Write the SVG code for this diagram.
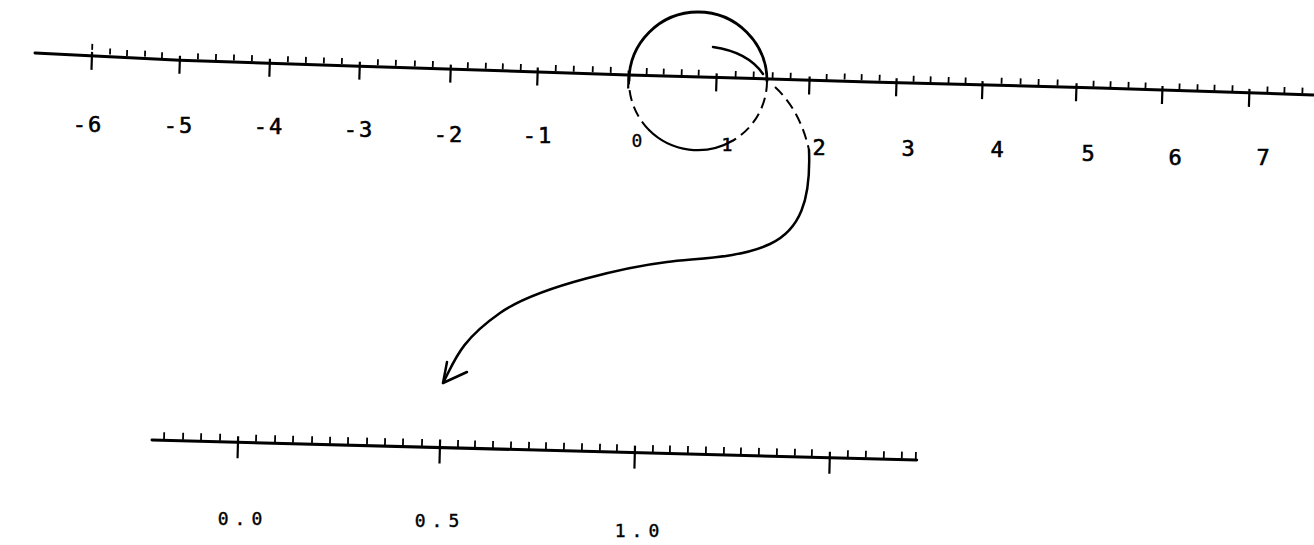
<svg xmlns="http://www.w3.org/2000/svg" width="1314" height="545" viewBox="0 0 1314 545">
<style>
.axis{fill:none;stroke:#000;stroke-width:3;stroke-linejoin:round;stroke-linecap:round}
.major{fill:none;stroke:#000;stroke-width:2.2}
.minor{fill:none;stroke:#000;stroke-width:1.8}
.lbl{font-family:"DejaVu Sans Mono","Liberation Mono",monospace;font-size:22px;fill:#000;stroke:#000;stroke-width:0.6;text-anchor:middle;letter-spacing:2px}
.lbls{font-family:"DejaVu Sans Mono","Liberation Mono",monospace;font-size:18px;fill:#000;stroke:#000;stroke-width:0.4;text-anchor:middle;letter-spacing:6px}
.ink{fill:none;stroke:#000;stroke-width:2.5;stroke-linecap:round;stroke-linejoin:round}
.dash{fill:none;stroke:#000;stroke-width:2;stroke-dasharray:11 6}
</style>
<rect width="1314" height="545" fill="#fff"/>

<g id="top-ruler">
  <g transform="translate(35,53) rotate(1.88)">
    <path class="axis" d="M0,0 L60,1 L145,2.5 L325,2.5 L594,2.5 L835,1.5 L1065,0 L1279,0"/>
    <path class="major" d="M57,-3 v18 M145,-2 v18 M235,-2 v18 M325,-2 v18 M416,-2 v18 M503,-2 v18 M594,-2 v18 M682,-2 v18 M775,-2 v18 M862,-3 v18 M948,-3 v18 M1042,-4 v18 M1128,-4 v18 M1215,-4 v18"/>
    <path class="minor" d="M57,-5 v-6 M75,-1 v-6 M92,0 v-6 M110,0 v-6 M127,1 v-6 M163,1 v-6 M181,1 v-6 M199,1 v-6 M217,1 v-6 M253,1 v-6 M271,1 v-6 M289,1 v-6 M307,1 v-6 M343,1 v-6 M361,1 v-6 M380,1 v-6 M398,1 v-6 M433,1 v-6 M451,1 v-6 M468,1 v-6 M486,1 v-6 M521,1 v-6 M539,1 v-6 M558,1 v-6 M576,1 v-6 M612,1 v-6 M629,1 v-6 M647,1 v-6 M664,1 v-6 M701,1 v-6 M719,1 v-6 M738,1 v-6 M756,1 v-6 M792,1 v-6 M810,0 v-6 M827,0 v-6 M845,0 v-6 M879,0 v-6 M896,0 v-6 M914,0 v-6 M931,0 v-6 M967,-1 v-6 M986,-1 v-6 M1004,-1 v-6 M1023,-1 v-6 M1059,-1 v-6 M1076,-1 v-6 M1094,-1 v-6 M1111,-1 v-6 M1145,-1 v-6 M1163,-1 v-6 M1180,-1 v-6 M1198,-1 v-6 M1233,-1 v-6 M1250,-1 v-6 M1268,-1 v-6"/>
  </g>
  <g id="top-labels">
    <text class="lbl" x="88" y="132">-6</text>
    <text class="lbl" x="179" y="133">-5</text>
    <text class="lbl" x="269" y="134">-4</text>
    <text class="lbl" x="359" y="137">-3</text>
    <text class="lbl" x="449" y="142">-2</text>
    <text class="lbl" x="538" y="143">-1</text>
    <text class="lbl" x="638" y="147" style="font-size:18px;stroke-width:0.3">0</text>
    <text class="lbl" x="728" y="151" style="font-size:18px">1</text>
    <text class="lbl" x="820" y="155">2</text>
    <text class="lbl" x="909" y="156">3</text>
    <text class="lbl" x="998" y="157">4</text>
    <text class="lbl" x="1089" y="161">5</text>
    <text class="lbl" x="1176" y="165">6</text>
    <text class="lbl" x="1264" y="165">7</text>
  </g>
</g>

<g id="magnifier">
  <path class="ink" d="M629,81 A69,69 0 0 1 767,81" style="stroke-width:2.8"/>
  <path class="dash" d="M767,81 A69,69 0 0 1 732.5,140.8"/>
  <path class="ink" d="M732.5,140.8 A69,69 0 0 1 649,130" style="stroke-width:2.2"/>
  <path class="dash" d="M649,130 A69,69 0 0 1 629,81"/>
  <path class="ink" d="M713,47 Q748,52 763,74"/>
</g>

<g id="connectors">
  <path class="dash" d="M775,87 Q800,110 809,150"/>
  <path class="ink" d="M809,150 C811,200 800,230 770,244 S700,258 667,262 S540,285 500,313 S455,360 443,383"/>
  <path class="ink" d="M447,362 L443,383 L467,372"/>
</g>

<g id="bottom-ruler">
  <g transform="translate(152,440) rotate(1.5)">
    <path class="axis" d="M0,0 L765,0"/>
    <path class="major" d="M86,-6 v22 M288,-8 v24 M483,-7 v23 M678,-6 v22"/>
    <path class="minor" d="M12,-1 v-7 M31,-1 v-7 M49,-1 v-7 M68,-1 v-7 M104,-1 v-7 M123,-1 v-7 M141,-1 v-7 M160,-1 v-7 M178,-1 v-7 M196,-1 v-7 M215,-1 v-7 M233,-1 v-7 M251,-1 v-7 M270,-1 v-7 M306,-1 v-7 M323,-1 v-7 M341,-1 v-7 M359,-1 v-7 M377,-1 v-7 M394,-1 v-7 M412,-1 v-7 M430,-1 v-7 M448,-1 v-7 M465,-1 v-7 M501,-1 v-7 M518,-1 v-7 M536,-1 v-7 M554,-1 v-7 M572,-1 v-7 M589,-1 v-7 M607,-1 v-7 M625,-1 v-7 M643,-1 v-7 M660,-1 v-7 M696,-1 v-7 M714,-1 v-7 M732,-1 v-7 M750,-1 v-7 M764,-1 v-7"/>
  </g>
  <g id="bottom-labels">
    <text class="lbls" x="243" y="525">0.0</text>
    <text class="lbls" x="440" y="527">0.5</text>
    <text class="lbls" x="640" y="537">1.0</text>
  </g>
</g>
</svg>
